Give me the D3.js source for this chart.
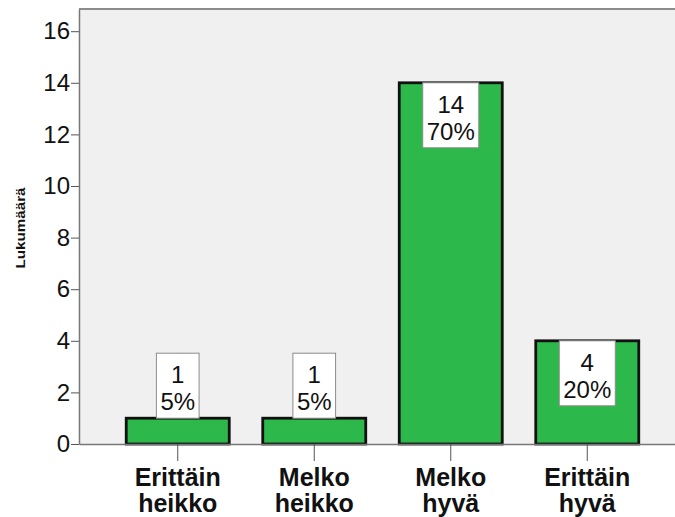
<!DOCTYPE html>
<html>
<head>
<meta charset="utf-8">
<script src="https://cdn.jsdelivr.net/npm/d3@7"></script>
<style>
  html, body { margin: 0; padding: 0; background: #ffffff; }
  svg { display: block; font-family: "Liberation Sans", Arial, sans-serif; }
</style>
</head>
<body>
<svg id="chart" width="675" height="517"></svg>
<script>
// Arvioinnin jakauma
const categories = [["Erittäin", "heikko"], ["Melko", "heikko"], ["Melko", "hyvä"], ["Erittäin", "hyvä"]];
const counts = [1, 1, 14, 4];
const percents = ["5%", "5%", "70%", "20%"];
const yTicks = [0, 2, 4, 6, 8, 10, 12, 14, 16];
const yTitle = "Lukumäärä";

const W = 675, H = 517;
const plot = { left: 79, top: 9, right: 686, bottom: 444 };

const svg = d3.select("#chart");

const keys = categories.map(c => c.join(" "));
const x = d3.scaleBand()
  .domain(keys)
  .range([plot.left, plot.right])
  .paddingInner(0.2454)
  .paddingOuter(0.346);

const y = d3.scaleLinear()
  .domain([0, 16.86])
  .range([plot.bottom, plot.top]);

// plot background
svg.append("rect")
  .attr("x", plot.left).attr("y", plot.top)
  .attr("width", plot.right - plot.left).attr("height", plot.bottom - plot.top)
  .attr("fill", "#f0f0f0");

// top frame line
svg.append("line")
  .attr("x1", plot.left).attr("x2", plot.right)
  .attr("y1", plot.top).attr("y2", plot.top)
  .attr("stroke", "#8c8c8c").attr("stroke-width", 2);

// bars
const barG = svg.append("g");
barG.selectAll("rect")
  .data(counts)
  .join("rect")
  .attr("x", (d, i) => x(keys[i]))
  .attr("y", d => y(d))
  .attr("width", x.bandwidth())
  .attr("height", d => y(0) - y(d))
  .attr("fill", "#2db84b")
  .attr("stroke", "#111111")
  .attr("stroke-width", 2.8);

// y axis
const yAxis = svg.append("g")
  .attr("transform", `translate(${plot.left},0)`)
  .call(d3.axisLeft(y).tickValues(yTicks).tickSize(8).tickPadding(1).tickSizeOuter(0));
yAxis.select(".domain").attr("stroke", "#777777").attr("stroke-width", 1.5);
yAxis.selectAll(".tick line").attr("stroke", "#555555");
yAxis.selectAll(".tick text")
  .attr("font-size", 24)
  .attr("fill", "#111111")
  .attr("font-family", "'Liberation Sans', Arial, sans-serif");

// x axis
const xAxis = svg.append("g")
  .attr("transform", `translate(0,${plot.bottom})`)
  .call(d3.axisBottom(x).tickSize(17).tickSizeOuter(0).tickFormat(""));
xAxis.select(".domain").attr("stroke", "#777777").attr("stroke-width", 1.5);
xAxis.selectAll(".tick line").attr("stroke", "#555555");

// category labels (two lines each)
const catG = svg.append("g");
categories.forEach((lines, i) => {
  lines.forEach((ln, j) => {
    catG.append("text")
      .attr("x", x(keys[i]) + x.bandwidth() / 2)
      .attr("y", 486 + j * 26)
      .attr("text-anchor", "middle")
      .attr("font-size", 25)
      .attr("font-weight", "bold")
      .attr("fill", "#111111")
      .text(ln);
  });
});

// y axis title
svg.append("text")
  .attr("transform", `translate(25,228) rotate(-90)`)
  .attr("text-anchor", "middle")
  .attr("font-size", 12)
  .attr("font-weight", "bold")
  .attr("fill", "#111111")
  .attr("textLength", 81)
  .attr("lengthAdjust", "spacingAndGlyphs")
  .text(yTitle);

// value labels: count and percent in a white box
const boxH = 65;
const labG = svg.append("g");
counts.forEach((d, i) => {
  const cx = x(keys[i]) + x.bandwidth() / 2;
  const barTop = y(d);
  const barH = y(0) - y(d);
  const top = barH >= boxH ? barTop : barTop - boxH;
  const g = labG.append("g");
  const rect = g.append("rect");
  const t1 = g.append("text").attr("x", cx).attr("y", top + 30)
    .attr("text-anchor", "middle").attr("font-size", 24).attr("fill", "#111111").text(d);
  const t2 = g.append("text").attr("x", cx).attr("y", top + 57)
    .attr("text-anchor", "middle").attr("font-size", 24).attr("fill", "#111111").text(percents[i]);
  const w = Math.max(t1.node().getComputedTextLength(), t2.node().getComputedTextLength()) + 8;
  rect.attr("x", cx - w / 2).attr("y", top)
    .attr("width", w).attr("height", boxH)
    .attr("fill", "#ffffff")
    .attr("stroke", "#8c8c8c").attr("stroke-width", 1);
});
</script>
</body>
</html>
